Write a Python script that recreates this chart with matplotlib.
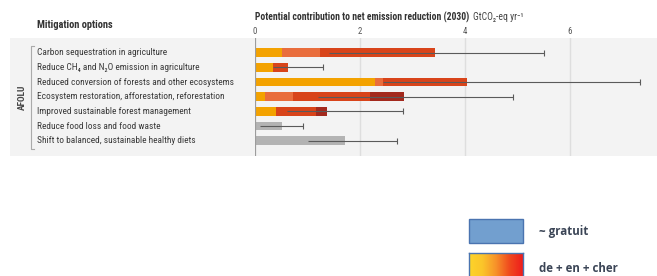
import numpy as np
import matplotlib.pyplot as plt
from matplotlib.patches import Rectangle
from matplotlib.colors import LinearSegmentedColormap
from matplotlib import font_manager
import matplotlib.transforms as mtransforms

options = [
    "Carbon sequestration in agriculture",
    "Reduce CH₄ and N₂O emission in agriculture",
    "Reduced conversion of forests and other ecosystems",
    "Ecosystem restoration, afforestation, reforestation",
    "Improved sustainable forest management",
    "Reduce food loss and food waste",
    "Shift to balanced, sustainable healthy diets",
]
# stacked cost segments (GtCO2-eq/yr)
seg_yellow = [0.51, 0.35, 2.29, 0.19, 0.40, 0.0, 0.0]
seg_light = [0.73, 0.0, 0.15, 0.54, 0.0, 0.0, 0.0]
seg_red = [2.19, 0.28, 1.59, 1.46, 0.77, 0.0, 0.0]
seg_dark = [0.0, 0.0, 0.0, 0.65, 0.21, 0.0, 0.0]
seg_grey = [0.0, 0.0, 0.0, 0.0, 0.0, 0.51, 1.71]
range_lo = [1.4, 0.35, 2.44, 1.2, 0.6, 0.1, 1.0]
range_hi = [5.5, 1.3, 7.33, 4.91, 2.81, 0.91, 2.70]
ticks = [0, 2, 4, 6]

W, H = 657, 276
fig = plt.figure(figsize=(W / 100, H / 100), dpi=100)
fig.patch.set_facecolor("white")
renderer = fig.canvas.get_renderer()

installed = {f.name for f in font_manager.fontManager.ttflist}
narrow = "Liberation Sans"
for cand in ["Liberation Sans Narrow", "DejaVu Sans Condensed", "Roboto Condensed",
             "Open Sans Condensed", "Noto Sans"]:
    if cand in installed:
        narrow = cand
        break
fam = [narrow, "DejaVu Sans"]


def fx(px):
    return px / W


def fy(py):
    return 1 - py / H


def fit(txt, width_px):
    # shrink/grow font so the text spans about width_px
    w = txt.get_window_extent(renderer).width
    txt.set_fontsize(txt.get_fontsize() * width_px / w)
    return txt.get_fontsize()


# grey panel behind everything
fig.patches.append(Rectangle((fx(10), fy(156)), fx(657) - fx(10), fy(38) - fy(156),
                             transform=fig.transFigure, facecolor="#f3f3f3",
                             edgecolor="none", zorder=0))

ax = fig.add_axes([fx(255), fy(156), fx(657) - fx(255), fy(38) - fy(156)])
ax.set_zorder(3)
ax.set_facecolor("none")
for s in ax.spines.values():
    s.set_visible(False)
ax.set_xlim(0, 7.657)
ax.set_ylim(7.04, -1.0)
ax.set_xticks([])
ax.set_yticks([])

for t in ticks[1:]:
    ax.axvline(t, color="#dedede", lw=1.0, zorder=1)
ax.axvline(0, color="#9c9c9c", lw=1.6, zorder=4)

y = np.arange(len(options))
h = 0.58
left = np.zeros(len(options))
for vals, col in [(seg_yellow, "#f3a200"), (seg_light, "#e96d3c"),
                  (seg_red, "#d8441a"), (seg_dark, "#a3291d"),
                  (seg_grey, "#b3b3b3")]:
    ax.barh(y, vals, left=left, height=h, color=col, zorder=2)
    left += np.array(vals)

ax.hlines(y, range_lo, range_hi, color="#5a5a5a", lw=0.8, zorder=3)
ax.plot(range_hi, y, "|", color="#5a5a5a", ms=4, mew=0.8, zorder=3)

# labels
tr = mtransforms.blended_transform_factory(fig.transFigure, ax.transData)
labs = [ax.text(fx(37), i, lab, transform=tr, family=fam, fontsize=7,
                color="#3a3a3a", va="center", ha="left")
        for i, lab in enumerate(options)]
fs = fit(labs[2], 199)
for t in labs:
    t.set_fontsize(fs)
for t in ticks:
    ax.text(t, -1.45, str(t), family=fam, fontsize=fs * 0.95, color="#555555",
            ha="center", va="center", clip_on=False)

mit = fig.text(fx(37), fy(25), "Mitigation options", family=fam, fontsize=7,
               fontweight="bold", color="#333333", va="center")
fit(mit, 77)
ttl = fig.text(fx(255), fy(17), "Potential contribution to net emission reduction (2030)",
               family=fam, fontsize=7, fontweight="bold", color="#333333", va="center")
tfs = fit(ttl, 215)
fig.text(fx(473), fy(17), "GtCO₂-eq yr⁻¹", family=fam, fontsize=tfs,
         color="#444444", va="center")
fig.text(fx(22), fy(97), "AFOLU", family=fam, fontsize=fs, fontweight="bold",
         color="#444444", rotation=90, ha="center", va="center")

# bracket
fig.add_artist(plt.Line2D([fx(34), fx(31), fx(31), fx(34)],
                          [fy(46), fy(46), fy(149), fy(149)],
                          transform=fig.transFigure, color="#aaaaaa", lw=0.8))

# legend
fig.patches.append(Rectangle((fx(469), fy(243)), fx(523) - fx(469), fy(219) - fy(243),
                             transform=fig.transFigure, facecolor="#729fcf",
                             edgecolor="#4a74b0", lw=1.0, zorder=2))
cmap = LinearSegmentedColormap.from_list(
    "cost", ["#fdd42a", "#fbc52a", "#f7922a", "#f04a1e", "#ee1c1c"])
gax = fig.add_axes([fx(469), fy(277), fx(523) - fx(469), fy(253) - fy(277)])
gax.imshow(np.linspace(0, 1, 256)[None, :], aspect="auto", cmap=cmap)
gax.set_xticks([])
gax.set_yticks([])
for s in gax.spines.values():
    s.set_color("#4a74b0")
    s.set_linewidth(1.0)

fig.text(fx(539), fy(231), "~ gratuit", family=["Open Sans", "DejaVu Sans"],
         fontsize=8.3, fontweight="bold", color="#3b4556", va="center")
fig.text(fx(539), fy(268), "de + en + cher", family=["Open Sans", "DejaVu Sans"],
         fontsize=8.3, fontweight="bold", color="#3b4556", va="center")

fig.savefig("out.png", dpi=100)
